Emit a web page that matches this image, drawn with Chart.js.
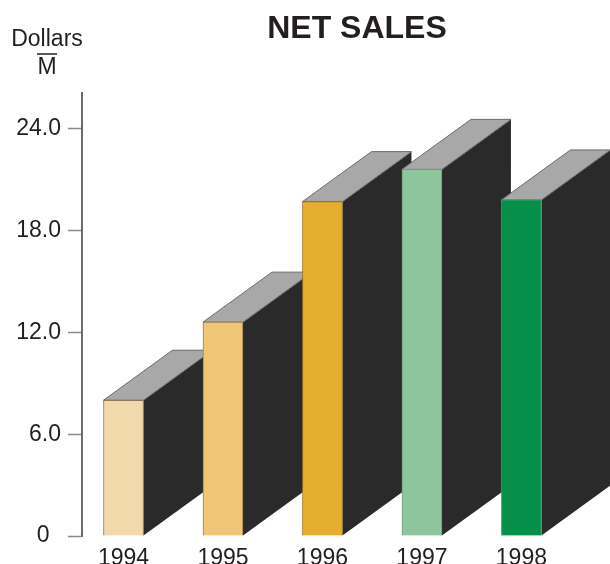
<!DOCTYPE html>
<html><head><meta charset="utf-8">
<script src="https://cdn.jsdelivr.net/npm/chart.js@4/dist/chart.umd.min.js"></script>
<style>html,body{margin:0;padding:0;background:#fff}#wrap{width:610px;height:564px}</style>
</head><body><div id="wrap"><canvas id="c" width="610" height="564"></canvas></div>
<script>
const categories = ['1994', '1995', '1996', '1997', '1998'];
const netSales = [8.0, 12.6, 19.7, 21.6, 19.8];
const yTickValues = [0, 6, 12, 18, 24];
const yTickLabels = ['0', '6.0', '12.0', '18.0', '24.0'];
const titleText = 'NET SALES';
const unitLine1 = 'Dollars';
const unitLine2 = 'M';

const frontColors = ['#f1d9ab', '#efc675', '#e6ae2e', '#8ec59c', '#05904a'];
const edgeColors = ['#8c7a5e', '#9a7f4c', '#a07a20', '#6f9c7c', '#3aa066'];
const FONT = '"Liberation Sans", Arial, sans-serif';

const xValues = categories.map(Number);

const depthPlugin = {
  id: 'depth3d',
  beforeDatasetsDraw(chart) {
    const ctx = chart.ctx;
    const meta = chart.getDatasetMeta(0);
    const dx = 69, dy = 50;
    ctx.save();
    meta.data.forEach((bar) => {
      const p = bar.getProps(['x', 'y', 'base', 'width'], true);
      const l = p.x - p.width / 2, r = p.x + p.width / 2;
      ctx.fillStyle = '#2a2a2a';
      ctx.beginPath();
      ctx.moveTo(r, p.y); ctx.lineTo(r + dx, p.y - dy);
      ctx.lineTo(r + dx, p.base - dy); ctx.lineTo(r, p.base);
      ctx.closePath(); ctx.fill();
      ctx.fillStyle = '#a8a8a8';
      ctx.strokeStyle = '#6a6a6a';
      ctx.lineWidth = 1;
      ctx.beginPath();
      ctx.moveTo(l, p.y); ctx.lineTo(l + dx, p.y - dy);
      ctx.lineTo(r + dx, p.y - dy); ctx.lineTo(r, p.y);
      ctx.closePath(); ctx.fill(); ctx.stroke();
    });
    ctx.restore();
  },
  afterDraw(chart) {
    const ctx = chart.ctx;
    ctx.save();
    ctx.fillStyle = '#231f20';
    ctx.textAlign = 'center';
    ctx.textBaseline = 'alphabetic';
    ctx.font = 'bold 32px ' + FONT;
    ctx.fillText(titleText, 357, 38);
    ctx.font = '23px ' + FONT;
    ctx.fillText(unitLine1, 47, 46);
    ctx.fillText(unitLine2, 47, 74);
    ctx.strokeStyle = '#231f20';
    ctx.lineWidth = 1.5;
    ctx.beginPath(); ctx.moveTo(37, 54); ctx.lineTo(57, 54); ctx.stroke();
    ctx.restore();
  }
};

new Chart(document.getElementById('c'), {
  type: 'bar',
  data: {
    datasets: [{
      data: xValues.map((x, i) => ({ x: x, y: netSales[i] })),
      backgroundColor: frontColors,
      borderColor: edgeColors,
      borderWidth: 1,
      barThickness: 40
    }]
  },
  options: {
    responsive: false,
    animation: false,
    layout: { padding: { top: 93, right: 10, left: 0, bottom: 0 } },
    plugins: { legend: { display: false }, tooltip: { enabled: false }, title: { display: false } },
    scales: {
      x: {
        type: 'linear',
        offset: false,
        min: 1993.583,
        max: 1998.79,
        grid: { display: false, offset: false },
        border: { display: false },
        afterBuildTicks: (s) => { s.ticks = xValues.map(v => ({ value: v })); },
        afterFit: (s) => { s.height = 28; },
        ticks: {
          padding: 1,
          color: '#231f20',
          font: { family: FONT, size: 23 },
          maxRotation: 0,
          autoSkip: false,
          callback: (v) => categories[xValues.indexOf(v)]
        }
      },
      y: {
        min: 0,
        max: 26.1,
        afterBuildTicks: (s) => { s.ticks = yTickValues.map(v => ({ value: v })); },
        afterFit: (s) => { s.width = 82; },
        grid: { drawOnChartArea: false, tickLength: 14, color: '#8a8a8a', tickWidth: 1.5 },
        border: { display: true, color: '#6b6b6b', width: 2 },
        ticks: {
          padding: 7,
          color: '#231f20',
          font: { family: FONT, size: 23 },
          callback: (v) => {
            const t = yTickLabels[yTickValues.indexOf(v)];
            return v === 0 ? t + '\u2002' : t;
          }
        }
      }
    }
  },
  plugins: [depthPlugin]
});
</script></body></html>
